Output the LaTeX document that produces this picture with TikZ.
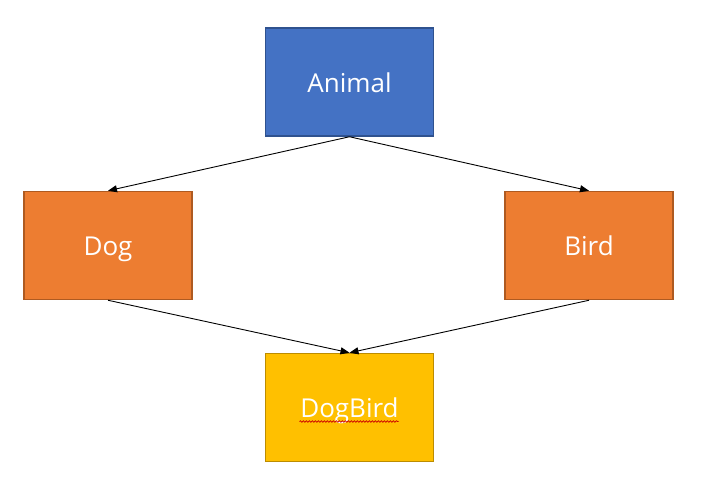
\documentclass[tikz,border=0pt]{standalone}
\usepackage{fontspec}
\setmainfont{Open Sans}
\usetikzlibrary{arrows.meta,decorations.pathmorphing}
\definecolor{blueF}{HTML}{4472C4}
\definecolor{blueD}{HTML}{2F528F}
\definecolor{orgF}{HTML}{ED7D31}
\definecolor{orgD}{HTML}{AE5A21}
\definecolor{gldF}{HTML}{FFC000}
\definecolor{gldD}{HTML}{BC8C00}
\begin{document}
\begin{tikzpicture}[x=1pt,y=-1pt,
  box/.style={draw, line width=1.5pt, minimum width=168pt, minimum height=108pt, inner sep=0pt,
    text height=20pt, text depth=0pt,
    text=white, font=\fontsize{26}{30}\selectfont},
  conn/.style={line width=0.9pt, -{Triangle[length=9pt,width=7pt]}}]
\useasboundingbox[fill=white] (0,0) rectangle (710,485);
\node[box, fill=blueF, draw=blueD] (animal) at (349.5,82) {Animal};
\node[box, fill=orgF, draw=orgD] (dog) at (108,245.5) {Dog};
\node[box, fill=orgF, draw=orgD] (bird) at (589,245.5) {Bird};
\node[box, fill=gldF, draw=gldD] (dogbird) at (349.5,407.5) {DogBird};
\draw[conn] (animal.south) -- (dog.north);
\draw[conn] (animal.south) -- (bird.north);
\draw[conn] (dog.south) -- (dogbird.north);
\draw[conn] (bird.south) -- (dogbird.north);
\draw[red!80!black, line width=0.7pt, decoration={snake, amplitude=0.8pt, segment length=3pt}, decorate]
  ([xshift=-50pt,yshift=-14pt]dogbird.center) -- ([xshift=49pt,yshift=-14pt]dogbird.center);
\end{tikzpicture}
\end{document}
